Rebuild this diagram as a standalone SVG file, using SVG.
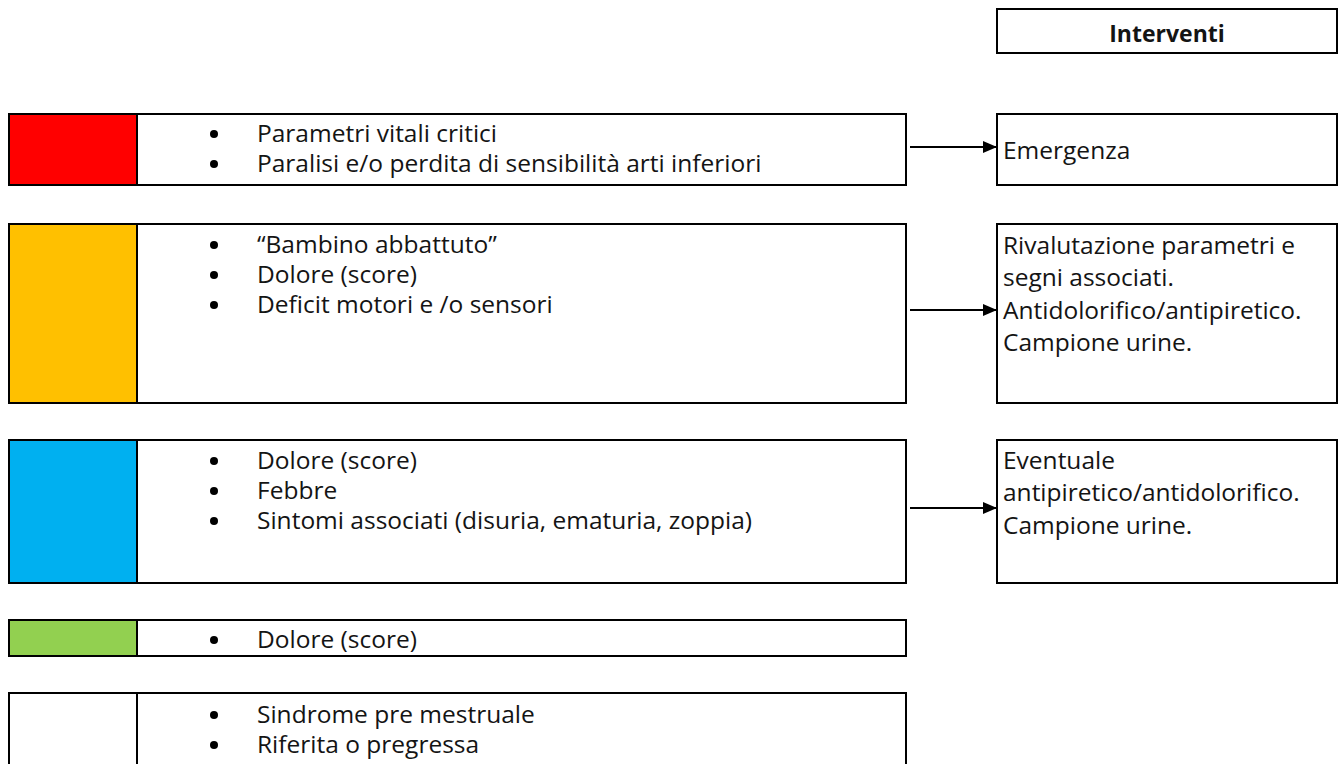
<svg xmlns="http://www.w3.org/2000/svg" width="1339" height="764" viewBox="0 0 1339 764">
<style>
.box{fill:#fff;stroke:#000;stroke-width:2}
.sw{stroke:#000;stroke-width:2}
text{font-family:"Open Sans","Noto Sans",sans-serif;font-size:24.5px;fill:#141414}
.b{font-weight:bold;font-size:23px}
.bul{fill:#000}
.con{stroke:#000;stroke-width:2;fill:none}
</style>
<defs>
<marker id="ah" markerWidth="14" markerHeight="12" refX="14" refY="6" orient="auto" markerUnits="userSpaceOnUse">
<path d="M0,0 L14,6 L0,12 Z" fill="#000"/>
</marker>
</defs>
<rect width="1339" height="764" fill="#fff"/>

<g id="header">
<rect class="box" x="997" y="9" width="340" height="44"/>
<text class="b" x="1167" y="42" text-anchor="middle">Interventi</text>
</g>

<g id="row-red">
<rect class="box" x="9" y="114" width="897" height="71"/>
<rect x="10" y="115" width="127" height="69" fill="#FF0000"/>
<line class="sw" x1="137" y1="114" x2="137" y2="185"/>
<circle class="bul" cx="214" cy="134" r="4"/>
<text x="257" y="142">Parametri vitali critici</text>
<circle class="bul" cx="214" cy="164" r="4"/>
<text x="257" y="172">Paralisi e/o perdita di sensibilità arti inferiori</text>
</g>

<g id="int-red">
<rect class="box" x="997" y="114" width="340" height="71"/>
<text x="1003" y="159">Emergenza</text>
</g>

<g id="row-orange">
<rect class="box" x="9" y="224" width="897" height="179"/>
<rect x="10" y="225" width="127" height="177" fill="#FFC000"/>
<line class="sw" x1="137" y1="224" x2="137" y2="403"/>
<circle class="bul" cx="214" cy="245" r="4"/>
<text x="257" y="253">“Bambino abbattuto”</text>
<circle class="bul" cx="214" cy="275" r="4"/>
<text x="257" y="283">Dolore (score)</text>
<circle class="bul" cx="214" cy="305" r="4"/>
<text x="257" y="313">Deficit motori e /o sensori</text>
</g>

<g id="int-orange">
<rect class="box" x="997" y="224" width="340" height="179"/>
<text x="1003" y="254">Rivalutazione parametri e</text>
<text x="1003" y="286">segni associati.</text>
<text x="1003" y="319">Antidolorifico/antipiretico.</text>
<text x="1003" y="351">Campione urine.</text>
</g>

<g id="row-blue">
<rect class="box" x="9" y="440" width="897" height="143"/>
<rect x="10" y="441" width="127" height="141" fill="#00B0F0"/>
<line class="sw" x1="137" y1="440" x2="137" y2="583"/>
<circle class="bul" cx="214" cy="461" r="4"/>
<text x="257" y="469">Dolore (score)</text>
<circle class="bul" cx="214" cy="491" r="4"/>
<text x="257" y="499">Febbre</text>
<circle class="bul" cx="214" cy="521" r="4"/>
<text x="257" y="529">Sintomi associati (disuria, ematuria, zoppia)</text>
</g>

<g id="int-blue">
<rect class="box" x="997" y="440" width="340" height="143"/>
<text x="1003" y="469">Eventuale</text>
<text x="1003" y="501">antipiretico/antidolorifico.</text>
<text x="1003" y="534">Campione urine.</text>
</g>

<g id="row-green">
<rect class="box" x="9" y="620" width="897" height="36"/>
<rect x="10" y="621" width="127" height="34" fill="#92D050"/>
<line class="sw" x1="137" y1="620" x2="137" y2="656"/>
<circle class="bul" cx="214" cy="640" r="4"/>
<text x="257" y="648">Dolore (score)</text>
</g>

<g id="row-white">
<rect class="box" x="9" y="693" width="897" height="90"/>
<line class="sw" x1="137" y1="693" x2="137" y2="783"/>
<circle class="bul" cx="214" cy="715" r="4"/>
<text x="257" y="723">Sindrome pre mestruale</text>
<circle class="bul" cx="214" cy="745" r="4"/>
<text x="257" y="753">Riferita o pregressa</text>
</g>

<g id="connectors">
<line class="con" x1="910" y1="147" x2="997" y2="147" marker-end="url(#ah)"/>
<line class="con" x1="910" y1="310" x2="997" y2="310" marker-end="url(#ah)"/>
<line class="con" x1="910" y1="508" x2="997" y2="508" marker-end="url(#ah)"/>
</g>
</svg>
